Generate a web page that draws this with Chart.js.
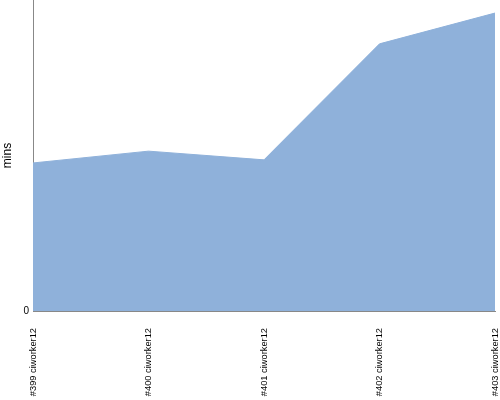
<!DOCTYPE html>
<html>
<head>
<script src="https://cdn.jsdelivr.net/npm/chart.js"></script>
<style>
  html, body { margin: 0; padding: 0; background: #fff; }
  #wrap { width: 500px; height: 400px; }
</style>
</head>
<body>
<div id="wrap"><canvas id="buildChart"></canvas></div>
<script>
    const builds = ['#399 ciworker12', '#400 ciworker12', '#401 ciworker12', '#402 ciworker12', '#403 ciworker12'];
    const durations = [47.6, 51.4, 48.6, 85.9, 95.8];
    const yTicks = [0];

    const ctx = document.getElementById('buildChart').getContext('2d');
    new Chart(ctx, {
        type: 'line',
        data: {
            labels: builds,
            datasets: [{
                label: 'duration',
                data: durations,
                fill: 'origin',
                backgroundColor: '#8fb1da',
                borderColor: '#8fb1da',
                borderWidth: 1,
                pointRadius: 0,
                tension: 0
            }]
        },
        options: {
            responsive: true,
            maintainAspectRatio: false,
            animation: false,
            layout: { padding: { top: 0, right: 5, left: 0, bottom: 0 } },
            plugins: { legend: { display: false }, tooltip: { enabled: false } },
            scales: {
                x: {
                    offset: false,
                    grid: { display: false, drawTicks: false },
                    border: { color: '#888' },
                    ticks: {
                        minRotation: 90, maxRotation: 90, padding: 17,
                        color: '#000',
                        font: { family: 'Liberation Sans', size: 9.3 }
                    },
                    afterFit: s => { s.height = 89; s.paddingLeft = 0; s.paddingRight = 0; }
                },
                y: {
                    min: 0, max: 100,
                    grid: { display: false, drawTicks: false },
                    border: { color: '#888' },
                    title: {
                        display: true, text: 'mins', color: '#000',
                        font: { family: 'Liberation Sans', size: 12 }, padding: 0
                    },
                    afterBuildTicks: s => { s.ticks = yTicks.map(v => ({ value: v })); },
                    ticks: {
                        padding: 4, color: '#000',
                        font: { family: 'Liberation Sans', size: 10 }
                    },
                    afterFit: s => { s.width = 33; s.paddingTop = 0; s.paddingBottom = 0; }
                }
            }
        }
    });
</script>
</body>
</html>
